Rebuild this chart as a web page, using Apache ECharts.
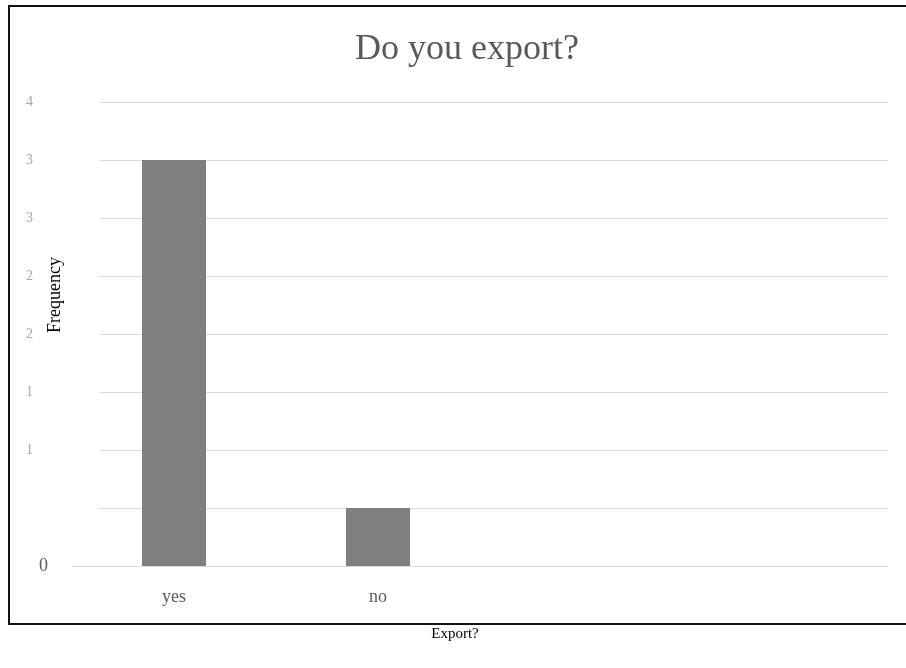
<!DOCTYPE html>
<html><head><meta charset="utf-8">
<script src="https://cdn.jsdelivr.net/npm/echarts@6/dist/echarts.min.js"></script>
<style>html,body{margin:0;padding:0;background:#fff}#c{width:906px;height:668px}</style>
</head><body><div id="c"></div>
<script>
var categories = ['yes', 'no', '', ''];
var frequency = [35, 5, null, null];
var yTickValues = [0, 5, 10, 15, 20, 25, 30, 35, 40];
var yTickLabels = ['0', '', '1', '1', '2', '2', '3', '3', '4'];
var yAxisTitle = 'Frequency';

var chart = echarts.init(document.getElementById('c'), null, {renderer: 'canvas'});
var serif = '"Liberation Serif", "DejaVu Serif", serif';
chart.setOption({
  animation: false,
  backgroundColor: '#fff',
  title: {
    text: 'Do you export?', left: 462, top: 27, textAlign: 'center',
    textStyle: {fontFamily: serif, fontSize: 36, fontWeight: 'normal', color: '#595959'}
  },
  graphic: [{
    type: 'rect', shape: {x: 9, y: 6, width: 1000, height: 618},
    style: {fill: 'none', stroke: '#111', lineWidth: 2}, silent: true
  }, {
    type: 'text', x: 55, y: 295, rotation: Math.PI / 2, silent: true,
    style: {text: yAxisTitle, fontFamily: serif, fontSize: 18, fill: '#000',
            align: 'center', verticalAlign: 'middle'}
  }],
  grid: [
    {left: 100, right: 18, top: 102, bottom: 102, containLabel: false, outerBoundsMode: 'none'},
    {left: 72, right: 18, top: 102, bottom: 102, containLabel: false, outerBoundsMode: 'none'}
  ],
  xAxis: [
    {gridIndex: 0, type: 'category', data: categories, show: false},
    {gridIndex: 1, type: 'category', data: categories,
     axisLine: {lineStyle: {color: '#d9d9d9', width: 1}},
     axisTick: {show: false},
     axisLabel: {fontFamily: serif, fontSize: 18, color: '#595959', margin: 22},
     name: 'Export?', nameLocation: 'middle', nameGap: 61,
     nameTextStyle: {fontFamily: serif, fontSize: 15, color: '#000', padding: [0, 0, 0, -50]}}
  ],
  yAxis: [
    {gridIndex: 0, type: 'value', min: 0, max: 40, interval: 5,
     axisLine: {show: false}, axisTick: {show: false}, axisLabel: {show: false},
     splitLine: {lineStyle: {color: '#d9d9d9', width: 1}}},
    {gridIndex: 1, type: 'value', min: 0, max: 40, interval: 5,
     axisLine: {show: false}, axisTick: {show: false}, splitLine: {show: false},
     axisLabel: {
       margin: 24,
       formatter: function (v) {
         var i = yTickValues.indexOf(v);
         var t = i >= 0 ? yTickLabels[i] : '';
         if (t === '') return '';
         return v === 0 ? '{z|' + t + '}' : '{f|' + t + '}';
       },
       rich: {
         z: {fontFamily: serif, fontSize: 18, color: '#595959'},
         f: {fontFamily: serif, fontSize: 14, color: '#a6a6a6', padding: [0, 15, 0, 0]}
       }
     }}
  ],
  series: [{
    type: 'bar', xAxisIndex: 1, yAxisIndex: 1, data: frequency,
    barWidth: '31.4%', itemStyle: {color: '#7f7f7f'}
  }]
});
</script></body></html>
